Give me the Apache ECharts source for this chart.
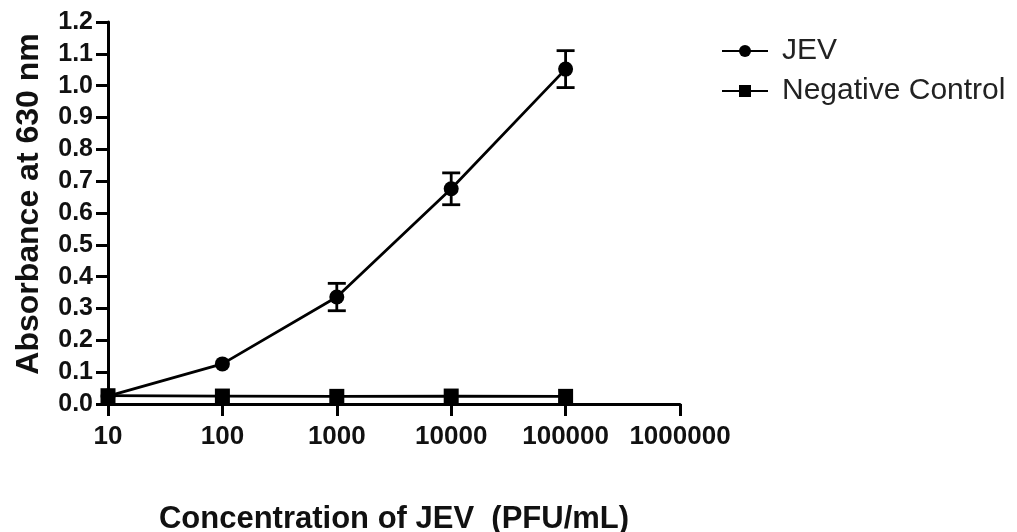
<!DOCTYPE html>
<html>
<head>
<meta charset="utf-8">
<script src="https://cdn.jsdelivr.net/npm/echarts@6/dist/echarts.min.js"></script>
<style>html,body{margin:0;padding:0;background:#fff}#c{width:1017px;height:532px}</style>
</head>
<body>
<div id="c"></div>
<script>
const concentrations = [10, 100, 1000, 10000, 100000];
const jevMean = [0.025, 0.126, 0.336, 0.676, 1.052];
const jevErr = [0, 0, 0.043, 0.05, 0.058];
const negMean = [0.026, 0.025, 0.024, 0.025, 0.024];
const negErr = [0, 0, 0, 0, 0];
const seriesNames = ['JEV', 'Negative Control'];

const chart = echarts.init(document.getElementById('c'));
const font = 'Liberation Sans, Arial, sans-serif';

function errData(means, errs) {
  return concentrations.map((c, i) => [c, means[i] - errs[i], means[i] + errs[i]]);
}
function errRender(params, api) {
  const x = api.value(0), lo = api.value(1), hi = api.value(2);
  if (hi - lo <= 0) return null;
  const p1 = api.coord([x, hi]), p2 = api.coord([x, lo]);
  const w = 9;
  const st = { stroke: '#000', lineWidth: 2.8 };
  return { type: 'group', children: [
    { type: 'line', shape: { x1: p1[0], y1: p1[1], x2: p2[0], y2: p2[1] }, style: st },
    { type: 'line', shape: { x1: p1[0] - w, y1: p1[1], x2: p1[0] + w, y2: p1[1] }, style: st },
    { type: 'line', shape: { x1: p2[0] - w, y1: p2[1], x2: p2[0] + w, y2: p2[1] }, style: st }
  ]};
}

chart.setOption({
  animation: false,
  backgroundColor: '#fff',
  grid: { left: 108, right: 337, top: 22, bottom: 128, containLabel: false, outerBoundsMode: 'none' },
  legend: {
    orient: 'vertical', left: 716, top: 31, itemGap: 10, itemWidth: 46, itemHeight: 15,
    data: seriesNames,
    textStyle: { fontFamily: font, fontSize: 30, lineHeight: 30, color: '#222', padding: [0, 0, 0, 9] }
  },
  xAxis: {
    type: 'log', logBase: 10, min: 10, max: 1000000,
    axisLine: { lineStyle: { color: '#000', width: 3 } },
    axisTick: { length: 12, lineStyle: { color: '#000', width: 3 } },
    splitLine: { show: false },
    minorTick: { show: false },
    axisLabel: { color: '#111', fontFamily: font, fontWeight: 'bold', fontSize: 26, margin: 20,
      formatter: v => String(Math.round(v)) },
    name: 'Concentration of JEV  (PFU/mL)', nameLocation: 'middle', nameGap: 100,
    nameTextStyle: { color: '#111', fontFamily: font, fontWeight: 'bold', fontSize: 31 }
  },
  yAxis: {
    type: 'value', min: 0, max: 1.2, interval: 0.1,
    axisLine: { show: true, lineStyle: { color: '#000', width: 3 } },
    axisTick: { show: true, length: 12, lineStyle: { color: '#000', width: 3 } },
    splitLine: { show: false },
    axisLabel: { color: '#111', fontFamily: font, fontWeight: 'bold', fontSize: 25, margin: 15,
      formatter: v => v.toFixed(1) },
    name: 'Absorbance at 630 nm', nameLocation: 'middle', nameGap: 63,
    nameTextStyle: { color: '#111', fontFamily: font, fontWeight: 'bold', fontSize: 32, padding: [0, 0, 0, 18] }
  },
  series: [
    { name: seriesNames[0], type: 'line', data: concentrations.map((c, i) => [c, jevMean[i]]),
      symbol: 'circle', symbolSize: 15, clip: false, z: 3,
      lineStyle: { color: '#000', width: 2.8 }, itemStyle: { color: '#000' } },
    { name: seriesNames[1], type: 'line', data: concentrations.map((c, i) => [c, negMean[i]]),
      symbol: 'rect', symbolSize: 15, clip: false, z: 3,
      lineStyle: { color: '#000', width: 2.8 }, itemStyle: { color: '#000' } },
    { type: 'custom', renderItem: errRender, data: errData(jevMean, jevErr), z: 4, clip: false, silent: true },
    { type: 'custom', renderItem: errRender, data: errData(negMean, negErr), z: 4, clip: false, silent: true }
  ]
});
</script>
</body>
</html>
